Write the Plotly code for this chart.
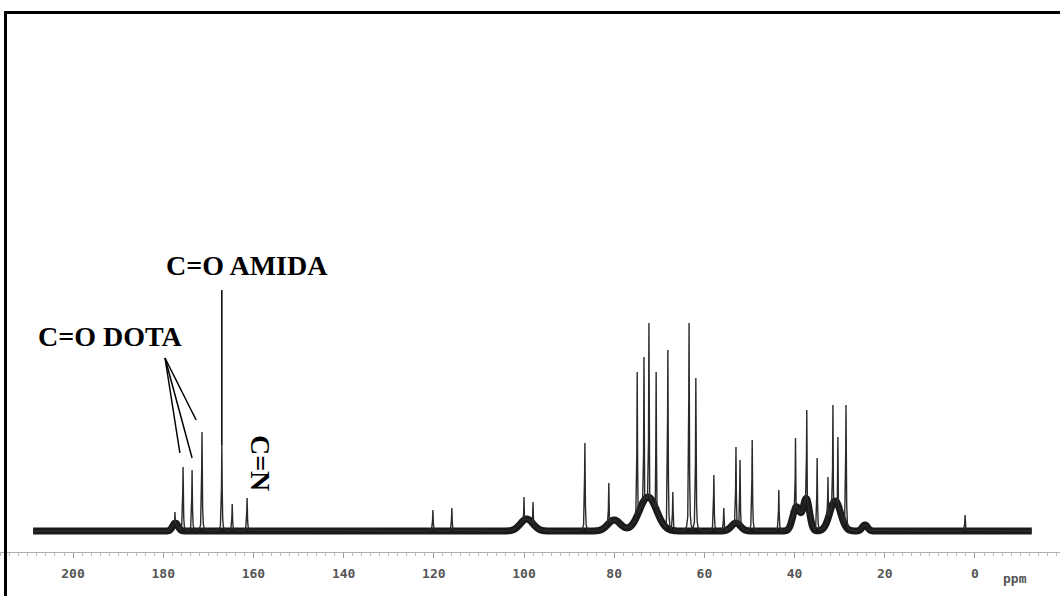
import numpy as np
import plotly.graph_objects as go

# 13C NMR spectrum: sharp resonances (ppm, relative intensity above baseline)
peak_ppm = [177.4, 175.6, 173.6, 171.4, 167.0, 164.7, 161.4,
            120.2, 116.0, 100.0, 98.0,
            86.5, 81.2, 74.9, 73.4, 72.3, 70.7, 68.1, 67.0, 63.4, 61.9,
            57.9, 55.7, 53.0, 52.1, 49.4, 43.5, 39.8, 37.3, 35.0, 32.6,
            31.5, 30.4, 28.6, 2.2]
peak_height = [19, 64, 61, 99, 86, 27, 33,
               21, 23, 34, 29,
               88, 48, 159, 174, 208, 159, 181, 39, 208, 153,
               56, 23, 84, 71, 91, 41, 93, 121, 73, 54,
               126, 94, 126, 16]

# Broad, unresolved humps under the multiplets (ppm, height, sigma in ppm)
hump_ppm = [177.3, 99.4, 80.0, 72.5, 53.0, 39.6, 37.4, 31.0, 24.4]
hump_height = [8, 12, 11, 34, 8, 24, 32, 30, 6]
hump_sigma = [0.6, 1.4, 1.4, 1.9, 1.0, 0.8, 0.7, 1.2, 0.6]

tick_ppm = [200, 180, 160, 140, 120, 100, 80, 60, 40, 20, 0]
tick_text = ["200", "180", "160", "140", "120", "100", "80", "60", "40", "20", "0"]

# Annotated assignments
dota_label_ppm, dota_label_int = 191.6, 195
amida_label_ppm, amida_label_int = 161.4, 266
cn_label_ppm, cn_label_int = 158.3, 68
dota_arrow_start = (179.6, 173)
dota_arrow_ends = [(176.3, 78), (173.6, 73), (172.7, 111)]
amida_line_top = 241

HWHM = 0.08  # sharp line half width, ppm

ppm = np.arange(-12.6, 208.9, 0.01)
ppm_b = np.arange(-12.6, 208.9, 0.05)


def envelope(x):
    out = np.zeros_like(x)
    for c, h, s in zip(hump_ppm, hump_height, hump_sigma):
        out += h * np.exp(-0.5 * ((x - c) / s) ** 2)
    return out


def sharp(x):
    out = np.zeros_like(x)
    for c, h in zip(peak_ppm, peak_height):
        out = np.maximum(out, h / (1.0 + ((x - c) / HWHM) ** 2))
    return out


broad = envelope(ppm_b)
spectrum = np.maximum(envelope(ppm), sharp(ppm))

fig = go.Figure()
# noisy baseline band
fig.add_trace(go.Scatter(x=ppm_b, y=broad, mode="lines",
                         line=dict(color="#1a1a1a", width=7, shape="spline"),
                         hoverinfo="skip", showlegend=False))
# resolved spectrum
fig.add_trace(go.Scatter(x=ppm, y=spectrum, mode="lines",
                         line=dict(color="#2a2a2a", width=1.4),
                         hoverinfo="skip", showlegend=False))

shapes = []
# frame around the figure
shapes.append(dict(type="rect", xref="paper", yref="paper",
                   x0=5.5 / 1060, x1=1.03, y0=-0.12, y1=1 - 12.5 / 552,
                   line=dict(color="black", width=3)))
# pointer lines
for ex, ey in dota_arrow_ends:
    shapes.append(dict(type="line", xref="x", yref="y",
                       x0=dota_arrow_start[0], y0=dota_arrow_start[1],
                       x1=ex, y1=ey, line=dict(color="black", width=1.5)))
amida_idx = peak_ppm.index(167.0)
shapes.append(dict(type="line", xref="x", yref="y",
                   x0=167.0, x1=167.0, y0=peak_height[amida_idx], y1=amida_line_top,
                   line=dict(color="black", width=1.5)))

label_font = dict(family="Liberation Serif", size=28, color="black")
annotations = [
    dict(x=dota_label_ppm, y=dota_label_int, xref="x", yref="y",
         text="<b>C=O DOTA</b>", showarrow=False, font=label_font,
         xanchor="center", yanchor="middle"),
    dict(x=amida_label_ppm, y=amida_label_int, xref="x", yref="y",
         text="<b>C=O AMIDA</b>", showarrow=False, font=label_font,
         xanchor="center", yanchor="middle"),
    dict(x=cn_label_ppm, y=cn_label_int, xref="x", yref="y",
         text="<b>C=N</b>", showarrow=False, font=label_font, textangle=90,
         xanchor="center", yanchor="middle"),
    dict(x=1015 / 1060, y=-26 / 552, xref="paper", yref="paper",
         text="ppm", showarrow=False,
         font=dict(family="DejaVu Sans Mono", size=13, color="#555", weight="bold"),
         xanchor="center", yanchor="middle"),
]

fig.update_layout(
    width=1060, height=596,
    margin=dict(l=0, r=0, t=0, b=44),
    paper_bgcolor="white", plot_bgcolor="white",
    shapes=shapes, annotations=annotations,
    xaxis=dict(range=[216.19, -18.85], showgrid=False, zeroline=False,
               showline=True, linecolor="#b0b0b0", linewidth=1,
               ticks="outside", ticklen=5, tickcolor="#999999",
               tickvals=tick_ppm, ticktext=tick_text,
               tickfont=dict(family="DejaVu Sans Mono", size=13, color="#555",
                             weight="bold"),
               ticklabelstandoff=4,
               minor=dict(dtick=2, ticks="outside", ticklen=3,
                          tickcolor="#bbbbbb", showgrid=False)),
    yaxis=dict(range=[-21, 531], visible=False, showgrid=False, zeroline=False),
)

fig.write_html("out.html")
